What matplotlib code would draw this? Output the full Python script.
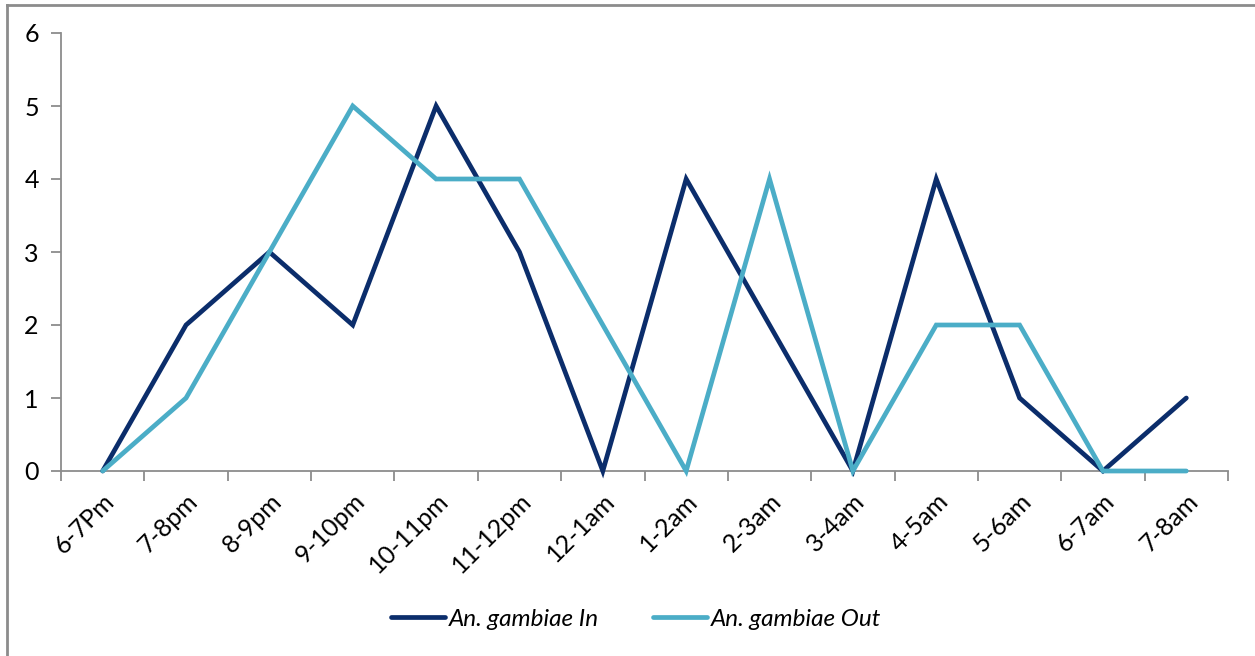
import matplotlib
matplotlib.use("Agg")
import matplotlib.pyplot as plt
from matplotlib.lines import Line2D

plt.rcParams['font.family'] = ['Lato', 'DejaVu Sans']

hours = ["6-7Pm", "7-8pm", "8-9pm", "9-10pm", "10-11pm", "11-12pm", "12-1am",
         "1-2am", "2-3am", "3-4am", "4-5am", "5-6am", "6-7am", "7-8am"]
gambiae_in = [0, 2, 3, 2, 5, 3, 0, 4, 2, 0, 4, 1, 0, 1]
gambiae_out = [0, 1, 3, 5, 4, 4, 2, 0, 4, 0, 2, 2, 0, 0]

dark = "#0b2d6b"
light = "#4badc7"
grey = "#8c8c8c"

fig = plt.figure(figsize=(12.55, 6.56), dpi=100)
ax = fig.add_axes([61 / 1255, 1 - 471 / 656, (1228 - 61) / 1255, (471 - 33) / 656])

x = list(range(len(hours)))
ax.plot(x, gambiae_in, color=dark, lw=3.4, solid_joinstyle='miter',
        solid_capstyle='round', label="An. gambiae In", zorder=3, clip_on=False)
ax.plot(x, gambiae_out, color=light, lw=3.4, solid_joinstyle='miter',
        solid_capstyle='round', label="An. gambiae Out", zorder=4, clip_on=False)

ax.set_xlim(-0.5, len(hours) - 0.5)
ax.set_ylim(0, 6)
ax.set_yticks(range(7))
ax.set_yticklabels([str(v) for v in range(7)], fontsize=18)

# category ticks sit on the boundaries, labels at the centres
ax.set_xticks([i - 0.5 for i in range(len(hours) + 1)])
ax.set_xticklabels([])
ax.set_xticks(x, minor=True)
ax.set_xticklabels(hours, minor=True, rotation=45, ha='right', va='top',
                   rotation_mode='anchor', fontsize=18)
ax.tick_params(axis='x', which='minor', length=0, pad=13)
ax.tick_params(axis='x', which='major', length=7, width=1.3, color=grey)
ax.tick_params(axis='y', length=7, width=1.3, color=grey, pad=9)

for side in ('top', 'right'):
    ax.spines[side].set_visible(False)
for side in ('left', 'bottom'):
    ax.spines[side].set_color(grey)
    ax.spines[side].set_linewidth(1.3)
    ax.spines[side].set_zorder(2)

leg = fig.legend(loc='center', bbox_to_anchor=(636 / 1255, 1 - 619 / 656),
                 ncol=2, frameon=False, handlelength=2.25, handletextpad=0.15,
                 columnspacing=2.2, prop={'style': 'italic', 'size': 17.5})
for h in leg.get_lines():
    h.set_solid_capstyle('round')

# outer frame: top and left edges
fig.add_artist(Line2D([7 / 1255, 1], [1 - 5 / 656, 1 - 5 / 656],
                      transform=fig.transFigure, color=grey, lw=2))
fig.add_artist(Line2D([7 / 1255, 7 / 1255], [0, 1 - 5 / 656],
                      transform=fig.transFigure, color=grey, lw=2))

fig.savefig("out.png", dpi=100, facecolor='white')
